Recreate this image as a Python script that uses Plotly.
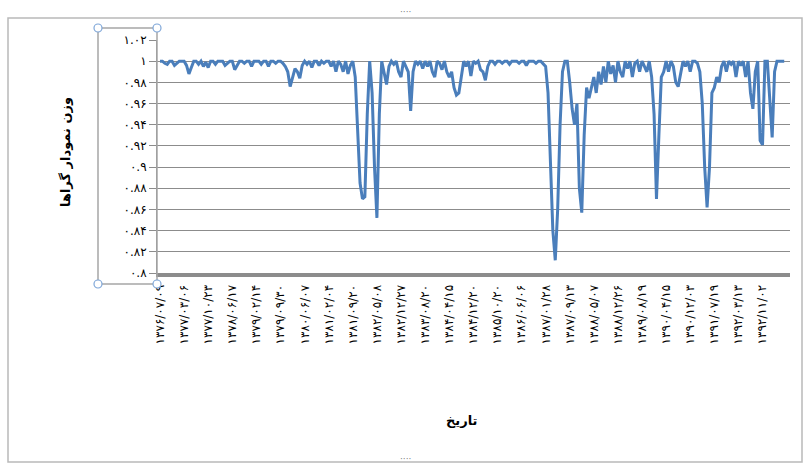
import plotly.graph_objects as go

# ---- data ----
date_labels = [
    "۱۳۷۶/۰۷/۰۹", "۱۳۷۷/۰۳/۰۶", "۱۳۷۷/۱۰/۲۳", "۱۳۷۸/۰۶/۱۷", "۱۳۷۹/۰۲/۱۴",
    "۱۳۷۹/۰۹/۳۰", "۱۳۸۰/۰۶/۰۷", "۱۳۸۱/۰۲/۰۴", "۱۳۸۱/۰۹/۲۰", "۱۳۸۲/۰۵/۰۸",
    "۱۳۸۲/۱۲/۲۷", "۱۳۸۳/۰۸/۲۰", "۱۳۸۴/۰۴/۱۵", "۱۳۸۴/۱۲/۲۰", "۱۳۸۵/۱۰/۲۰",
    "۱۳۸۶/۰۶/۰۶", "۱۳۸۷/۰۱/۲۸", "۱۳۸۷/۰۹/۱۳", "۱۳۸۸/۰۵/۰۷", "۱۳۸۸/۱۲/۲۶",
    "۱۳۸۹/۰۸/۱۹", "۱۳۹۰/۰۴/۱۵", "۱۳۹۰/۱۲/۰۳", "۱۳۹۱/۰۷/۱۹", "۱۳۹۲/۰۳/۱۳",
    "۱۳۹۲/۱۱/۰۲",
]
label_step = 10

weights = [
    1, 1, 0.998, 0.997, 1, 1, 0.996, 0.998, 1, 1,
    1, 0.996, 0.988, 0.994, 1, 1, 0.997, 1, 0.995, 0.999,
    0.994, 1, 1, 0.997, 1, 1, 1, 0.996, 0.998, 1,
    1, 0.992, 0.996, 1, 1, 0.998, 1, 1, 0.995, 1,
    1, 1, 0.997, 1, 1, 0.995, 1, 1, 0.998, 1,
    1, 0.998, 0.995, 0.99, 0.976, 0.986, 0.993, 0.99, 0.984, 0.996,
    1, 0.997, 1, 0.994, 1, 1, 0.996, 1, 0.998, 1,
    1, 0.995, 1, 0.99, 1, 0.997, 0.99, 1, 0.988, 0.996,
    1, 0.985, 0.93, 0.885, 0.87, 0.872, 0.95, 1, 0.97, 0.9,
    0.852, 0.95, 1, 0.99, 0.978, 0.995, 1, 0.997, 1, 0.99,
    0.985, 1, 0.995, 0.99, 0.953, 0.99, 1, 0.997, 1, 0.993,
    1, 0.995, 1, 0.99, 0.985, 1, 0.998, 0.992, 1, 0.99,
    0.985, 0.99, 0.975, 0.968, 0.97, 0.985, 1, 0.995, 1, 0.986,
    1, 0.998, 1, 0.992, 0.99, 0.982, 0.995, 1, 1, 0.997,
    1, 1, 0.998, 1, 1, 0.997, 1, 1, 1, 0.998,
    1, 1, 0.996, 1, 1, 1, 0.998, 1, 1, 0.997,
    0.995, 0.97, 0.9, 0.84, 0.812, 0.86, 0.94, 0.99, 1, 1,
    0.98, 0.955, 0.94, 0.96, 0.88, 0.857, 0.93, 0.975, 0.965, 0.975,
    0.985, 0.97, 0.99, 0.978, 0.995, 0.98, 1, 0.988, 0.996, 0.98,
    1, 0.99, 0.985, 1, 0.993, 1, 0.985, 0.998, 1, 0.99,
    1, 0.995, 0.99, 1, 0.985, 0.95, 0.87, 0.93, 0.985, 0.99,
    1, 0.99, 1, 0.995, 0.98, 0.976, 0.99, 1, 0.995, 1,
    0.99, 1, 1, 0.998, 0.99, 0.96, 0.9, 0.862, 0.9, 0.97,
    0.975, 0.985, 0.98, 0.995, 1, 0.99, 1, 0.997, 1, 0.985,
    1, 0.996, 1, 0.985, 1, 0.97, 0.955, 0.99, 1, 0.925,
    0.921, 1, 1, 0.96, 0.928, 0.99, 1, 1, 1, 1,
]

y_tick_vals = [0.8, 0.82, 0.84, 0.86, 0.88, 0.9, 0.92, 0.94, 0.96, 0.98, 1.0, 1.02]
y_tick_text = ["۰.۸", "۰.۸۲", "۰.۸۴", "۰.۸۶", "۰.۸۸", "۰.۹", "۰.۹۲", "۰.۹۴",
               "۰.۹۶", "۰.۹۸", "۱", "۱.۰۲"]

y_title = "وزن نمودار گراها"
x_title = "تاریخ"

# ---- figure ----
W, H = 809, 468
L, R, T, B = 157, 19, 40, 195
PW, PH = W - L - R, H - T - B

def px(x):
    return (x - L) / PW

def py(y):
    return (H - B - y) / PH

idx = list(range(len(weights)))
tick_idx = [i * label_step for i in range(len(date_labels))]

fig = go.Figure()
fig.add_trace(go.Scatter(
    x=idx, y=weights, mode="lines",
    line=dict(color="#4a7ebb", width=3),
    showlegend=False, hoverinfo="skip",
))

FONT = "DejaVu Sans, Noto Sans, sans-serif"

shapes = []
# outer chart frame
shapes.append(dict(type="rect", xref="paper", yref="paper",
                   x0=px(8), x1=px(802), y0=py(462), y1=py(18),
                   line=dict(color="#b9b9b9", width=1.5), layer="below"))
# selection box around y-axis labels
shapes.append(dict(type="rect", xref="paper", yref="paper",
                   x0=px(98), x1=px(157), y0=py(284), y1=py(28),
                   line=dict(color="#a6a6a6", width=1.5)))
rx, ry = 4 / PW, 4 / PH
for cx, cy in [(98, 28), (157, 28), (98, 284), (157, 284)]:
    shapes.append(dict(type="circle", xref="paper", yref="paper",
                       x0=px(cx) - rx, x1=px(cx) + rx,
                       y0=py(cy) - ry, y1=py(cy) + ry,
                       line=dict(color="#7ea6d8", width=1.2),
                       fillcolor="white"))

annotations = [
    dict(text="<b>" + y_title + "</b>", xref="paper", yref="paper",
         x=px(65), y=py(152), textangle=-90, showarrow=False,
         xanchor="center", yanchor="middle",
         font=dict(family=FONT, size=13, color="black")),
    dict(text="<b>" + x_title + "</b>", xref="paper", yref="paper",
         x=px(462), y=py(420), showarrow=False,
         xanchor="center", yanchor="middle",
         font=dict(family=FONT, size=13, color="black")),
]
# small frame handles
for hx, hy, t in [(405, 12, "····"), (405, 459, "····")]:
    annotations.append(dict(text=t, xref="paper", yref="paper", x=px(hx), y=py(hy),
                            xanchor="center", yanchor="middle",
                            showarrow=False, font=dict(size=9, color="#808080")))

fig.update_layout(
    width=W, height=H,
    margin=dict(l=L, r=R, t=T, b=B),
    paper_bgcolor="white", plot_bgcolor="white",
    font=dict(family=FONT, size=11, color="black"),
    shapes=shapes, annotations=annotations,
    xaxis=dict(
        range=[-1.25, 261.4],
        tickvals=tick_idx, ticktext=date_labels, tickangle=-90,
        showgrid=False, zeroline=False,
        showline=True, linecolor="#8c8c8c", linewidth=4,
        ticks="outside", ticklen=3, tickcolor="rgba(0,0,0,0)",
        tickfont=dict(family=FONT, size=12, color="black"),
    ),
    yaxis=dict(
        range=[0.8, 1.02],
        tickvals=y_tick_vals, ticktext=y_tick_text,
        showgrid=True, gridcolor="#8c8c8c", gridwidth=1,
        zeroline=False, showline=True, linecolor="#8c8c8c", linewidth=1,
        ticks="outside", ticklen=7, tickcolor="#8c8c8c",
        tickfont=dict(family=FONT, size=12, color="black"),
    ),
)

fig.write_html("out.html", config={"displayModeBar": False},
               post_script="document.body.style.margin='0';document.body.style.overflow='hidden';")
